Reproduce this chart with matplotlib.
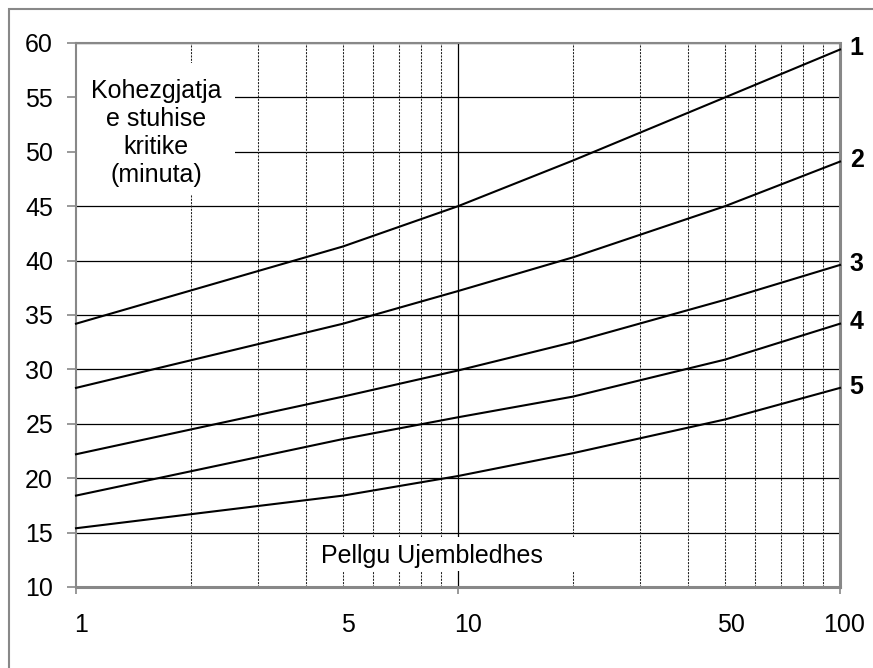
import matplotlib
matplotlib.use("Agg")
from matplotlib import pyplot as plt
from matplotlib.patches import Rectangle
from matplotlib.transforms import ScaledTranslation

plt.rcParams['font.family'] = ['Liberation Sans', 'DejaVu Sans']

# siperfaqja e pellgut (x) dhe kohezgjatja per secilen kurbe
area = [1, 5, 10, 20, 50, 100]
curve_1 = [34.2, 41.3, 45.0, 49.2, 55.0, 59.4]
curve_2 = [28.3, 34.2, 37.2, 40.3, 45.0, 49.1]
curve_3 = [22.2, 27.5, 29.9, 32.5, 36.4, 39.6]
curve_4 = [18.4, 23.6, 25.6, 27.5, 30.9, 34.2]
curve_5 = [15.4, 18.4, 20.2, 22.3, 25.4, 28.3]
curve_names = ["1", "2", "3", "4", "5"]

x_labels = [1, 5, 10, 50, 100]
y_ticks = [10, 15, 20, 25, 30, 35, 40, 45, 50, 55, 60]

FS = 18

fig = plt.figure(figsize=(8.73, 6.68), dpi=100)
ax = fig.add_axes([76 / 873, 1 - 587 / 668, 764 / 873, 544 / 668])

# korniza e figures (vetem majtas dhe lart duket)
fig.add_artist(Rectangle((9 / 873, -0.5), 2, 0.5 + 1 - 9 / 668, transform=fig.transFigure,
                         fill=False, edgecolor='#888888', lw=1.5, clip_on=False))

ax.set_xscale('log')
ax.set_xlim(1, 100)
ax.set_ylim(10, 60)

# rrjeta
for y in y_ticks:
    ax.axhline(y, color='black', lw=0.9, zorder=1)
for dec in [1, 10]:
    for k in range(2, 10):
        ax.axvline(k * dec, color='#222222', lw=0.75, ls=(0, (2, 1.2)), zorder=1)
ax.axvline(10, color='black', lw=0.9, zorder=1)

# kutite e bardha per tekstet
ax.add_patch(Rectangle((0, (587 - 195) / 544), (235 - 76) / 764, 132 / 544,
                       transform=ax.transAxes, facecolor='white', edgecolor='none', zorder=2))
ax.add_patch(Rectangle(((312 - 76) / 764, (587 - 571) / 544), 288 / 764, 34 / 544,
                       transform=ax.transAxes, facecolor='white', edgecolor='none', zorder=2))

ax.text((156 - 76) / 764, (587 - 133) / 544, "Kohezgjatja\ne stuhise\nkritike\n(minuta)",
        transform=ax.transAxes, ha='center', va='center', fontsize=FS,
        linespacing=1.2, zorder=3)
ax.text((321 - 76) / 764, (587 - 556) / 544, "Pellgu Ujembledhes",
        transform=ax.transAxes, ha='left', va='center', fontsize=FS, zorder=3)

curves = [curve_1, curve_2, curve_3, curve_4, curve_5]
for vals, name in zip(curves, curve_names):
    ax.plot(area, vals, color='black', lw=1.5, zorder=4, clip_on=False)
    ax.annotate(name, xy=(area[-1], vals[-1]), xytext=(7, 1), textcoords='offset points',
                ha='left', va='center', fontsize=FS, fontweight='bold',
                annotation_clip=False)

ax.set_yticks(y_ticks)
ax.set_yticklabels([str(v) for v in y_ticks])
ax.set_xticks(x_labels)
ax.set_xticks([], minor=True)
ax.set_xticklabels([str(v) for v in x_labels])
ax.tick_params(axis='y', length=6.5, width=1.2, color='#888888', pad=10, labelsize=FS)
ax.tick_params(axis='x', length=5, width=1.2, color='#888888', pad=14, labelsize=FS)

xticks = ax.xaxis.get_major_ticks()
for i, v in enumerate(x_labels):
    if v in (5, 50):
        xticks[i].tick1line.set_visible(False)
shifts = {1: -2, 5: -2, 10: -4, 50: -8, 100: -17}
for lab, v in zip(ax.get_xticklabels(), x_labels):
    lab.set_horizontalalignment('left')
    lab.set_transform(lab.get_transform() + ScaledTranslation(shifts[v] / 100, 0, fig.dpi_scale_trans))

for s in ax.spines.values():
    s.set_color('#888888')
    s.set_linewidth(1.5)
ax.spines['bottom'].set_linewidth(2.2)
ax.spines['right'].set_linewidth(2.2)

fig.savefig("out.png", dpi=100)
